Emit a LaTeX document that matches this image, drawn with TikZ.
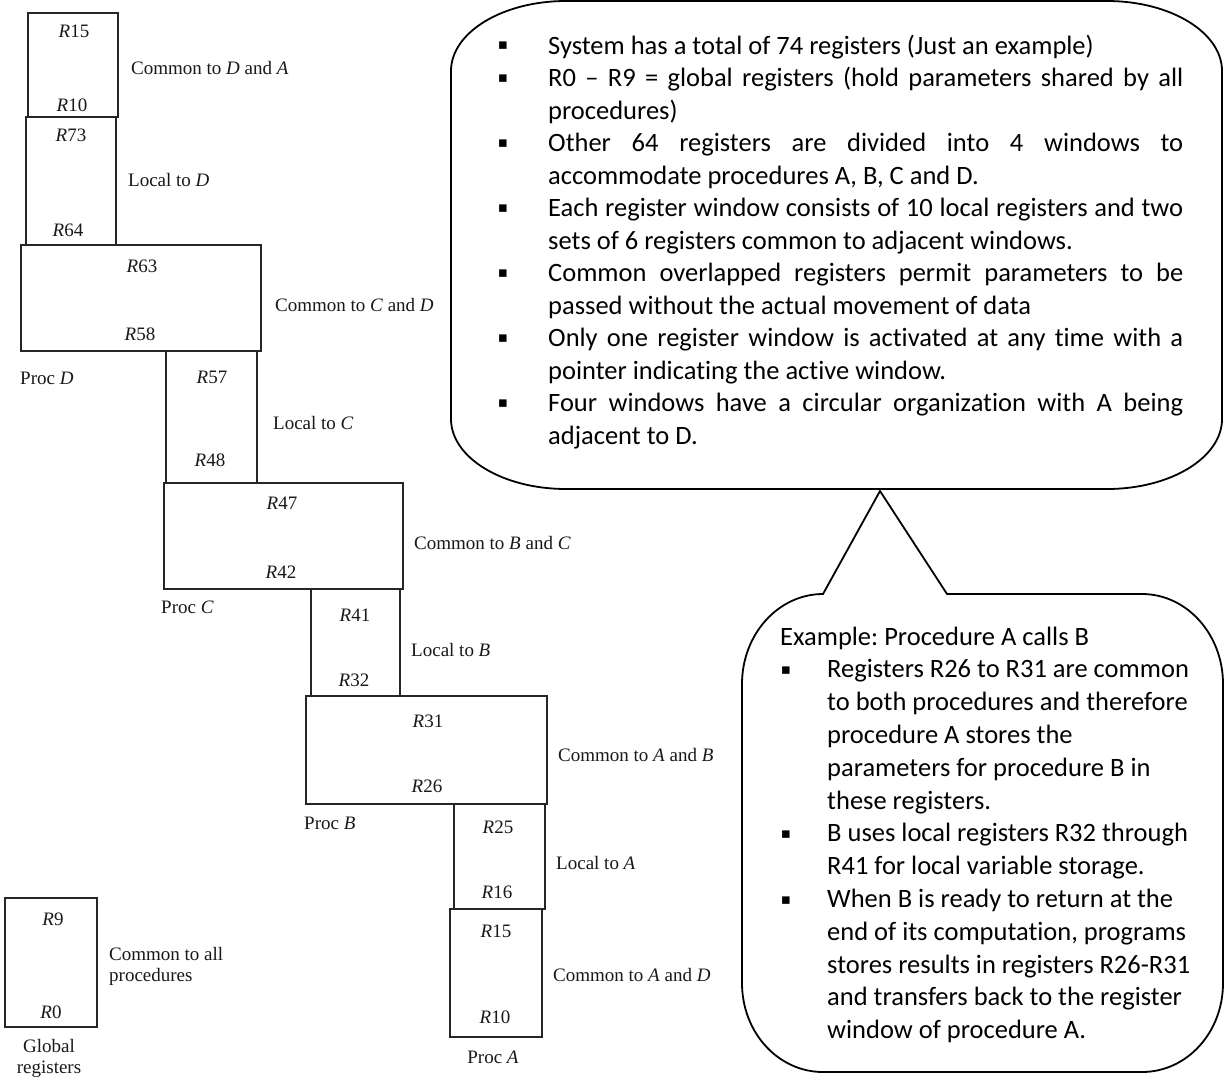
\documentclass[tikz,border=0pt]{standalone}
\usepackage{fontspec}
\newfontfamily\serifA{Liberation Serif}
\newfontfamily\calib[Ligatures=NoCommon]{Carlito}
\newfontfamily\dejavu{DejaVu Sans}
\newcommand\regfont{\serifA\fontsize{19}{21}\selectfont}
\newcommand\calfont{\calib\fontsize{26.5}{32.5}\selectfont\frenchspacing}
\newcommand\Rg{\textit{R}}
\newcommand\jl[1]{\makebox[635pt][s]{#1}}
\begin{document}
\begin{tikzpicture}[x=1pt,y=-1pt,
  regbox/.style={draw=black!85, line width=1.7pt},
  reg/.style={font=\regfont, text=black!90, inner sep=0pt},
  lbl/.style={reg, anchor=west},
  callout/.style={draw=black, line width=1.8pt},
  ctext/.style={font=\calfont, anchor=base west, inner sep=0pt},
  bul/.style={font=\dejavu\fontsize{15}{15}\selectfont, inner sep=0pt}]
\useasboundingbox (0,0) rectangle (1225,1076);
\fill[white] (0,0) rectangle (1225,1076);

% register boxes
\draw[regbox] (28,13) rectangle (118,117);
\draw[regbox] (26,117) rectangle (116,245);
\draw[regbox] (21,245) rectangle (261,351);
\draw[regbox] (166,351) rectangle (257,483);
\draw[regbox] (164,483) rectangle (403,589);
\draw[regbox] (311,589) rectangle (400,696);
\draw[regbox] (306,696) rectangle (547,804);
\draw[regbox] (454,804) rectangle (545,909);
\draw[regbox] (450,909) rectangle (542,1037);
\draw[regbox] (5,898) rectangle (97,1027);

% register labels
\node[reg] (r15d) at (74,31) {\Rg15};
\node[reg] (r10d) at (72,105) {\Rg10};
\node[lbl] (cda) at (131,68) {Common to \textit{D} and \textit{A}};
\node[reg] (r73) at (71,135) {\Rg73};
\node[lbl] (ld) at (128,180) {Local to \textit{D}};
\node[reg] (r64) at (68,230) {\Rg64};
\node[reg] (r63) at (142,266) {\Rg63};
\node[reg] (r58) at (140,334) {\Rg58};
\node[lbl] (ccd) at (275,305) {Common to \textit{C} and \textit{D}};
\node[lbl] (pd) at (20,378) {Proc \textit{D}};
\node[reg] (r57) at (212,377) {\Rg57};
\node[reg] (r48) at (210,460) {\Rg48};
\node[lbl] (lc) at (273,423) {Local to \textit{C}};
\node[reg] (r47) at (282,503) {\Rg47};
\node[reg] (r42) at (281,572) {\Rg42};
\node[lbl] (cbc) at (414,543) {Common to \textit{B} and \textit{C}};
\node[lbl] (pc) at (161,607) {Proc \textit{C}};
\node[reg] (r41) at (355,615) {\Rg41};
\node[reg] (r32) at (354,680) {\Rg32};
\node[lbl] (lb) at (411,650) {Local to \textit{B}};
\node[reg] (r31) at (428,721) {\Rg31};
\node[reg] (r26) at (427,786) {\Rg26};
\node[lbl] (cab) at (558,755) {Common to \textit{A} and \textit{B}};
\node[lbl] (pb) at (304,823) {Proc \textit{B}};
\node[reg] (r25) at (498,827) {\Rg25};
\node[reg] (r16) at (497,892) {\Rg16};
\node[lbl] (la) at (556,863) {Local to \textit{A}};
\node[reg] (r15a) at (496,931) {\Rg15};
\node[reg] (r10a) at (495,1017) {\Rg10};
\node[lbl] (cad) at (553,975) {Common to \textit{A} and \textit{D}};
\node[reg] (pa) at (493,1057) {Proc \textit{A}};
\node[reg] (r9) at (53,919) {\Rg9};
\node[reg] (r0) at (51,1012) {\Rg0};
\node[reg, anchor=west, align=left] (call) at (109,966) {Common to all\\procedures};
\node[reg, align=center] (glob) at (49,1058) {Global\\registers};

% top callout
\draw[callout] (451,71) .. controls (451,32.4) and (502.5,1) .. (566,1)
  -- (1107,1) .. controls (1170.5,1) and (1222,32.4) .. (1222,71)
  -- (1222,419) .. controls (1222,457.6) and (1170.5,489) .. (1107,489)
  -- (566,489) .. controls (502.5,489) and (451,457.6) .. (451,419) -- cycle;

% bottom callout with wedge
\draw[callout, fill=white] (742,684) .. controls (742,634.3) and (778.3,594) .. (823,594)
  -- (880,491) -- (947,594)
  -- (1142,594) .. controls (1186.7,594) and (1223,634.3) .. (1223,684)
  -- (1223,983) .. controls (1223,1032.7) and (1186.7,1072) .. (1142,1072)
  -- (823,1072) .. controls (778.3,1072) and (742,1032.7) .. (742,983) -- cycle;

% top callout text
\node[bul] (b1) at (503,46) {▪};
\node[ctext] (t1) at (548,54) {System has a total of 74 registers (Just an example)};
\node[bul] (b2) at (503,78.5) {▪};
\node[ctext] (t2) at (548,86.5) {\jl{R0 – R9 = global registers (hold parameters shared by all}};
\node[ctext] (t3) at (548,119) {procedures)};
\node[bul] (b4) at (503,143.5) {▪};
\node[ctext] (t4) at (548,151.5) {\jl{Other 64 registers are divided into 4 windows to}};
\node[ctext] (t5) at (548,184) {accommodate procedures A, B, C and D.};
\node[bul] (b6) at (503,208.5) {▪};
\node[ctext] (t6) at (548,216.5) {\jl{Each register window consists of 10 local registers and two}};
\node[ctext] (t7) at (548,249) {sets of 6 registers common to adjacent windows.};
\node[bul] (b8) at (503,273.5) {▪};
\node[ctext] (t8) at (548,281.5) {\jl{Common overlapped registers permit parameters to be}};
\node[ctext] (t9) at (548,314) {passed without the actual movement of data};
\node[bul] (b10) at (503,338.5) {▪};
\node[ctext] (t10) at (548,346.5) {\jl{Only one register window is activated at any time with a}};
\node[ctext] (t11) at (548,379) {pointer indicating the active window.};
\node[bul] (b12) at (503,403.5) {▪};
\node[ctext] (t12) at (548,411.5) {\jl{Four windows have a circular organization with A being}};
\node[ctext] (t13) at (548,444) {adjacent to D.};

% bottom callout text
\node[ctext] (e0) at (780,645) {Example: Procedure A calls B};
\node[bul] (eb1) at (786,670.8) {▪};
\node[ctext] (e1) at (827,677.8) {Registers R26 to R31 are common};
\node[ctext] (e2) at (827,710.6) {to both procedures and therefore};
\node[ctext] (e3) at (827,743.4) {procedure A stores the};
\node[ctext] (e4) at (827,776.2) {parameters for procedure B in};
\node[ctext] (e5) at (827,809) {these registers.};
\node[bul] (eb6) at (786,834.8) {▪};
\node[ctext] (e6) at (827,841.8) {B uses local registers R32 through};
\node[ctext] (e7) at (827,874.6) {R41 for local variable storage.};
\node[bul] (eb8) at (786,900.4) {▪};
\node[ctext] (e8) at (827,907.4) {When B is ready to return at the};
\node[ctext] (e9) at (827,940.2) {end of its computation, programs};
\node[ctext] (e10) at (827,973) {stores results in registers R26-R31};
\node[ctext] (e11) at (827,1005.8) {and transfers back to the register};
\node[ctext] (e12) at (827,1038.6) {window of procedure A.};
\end{tikzpicture}
\end{document}
